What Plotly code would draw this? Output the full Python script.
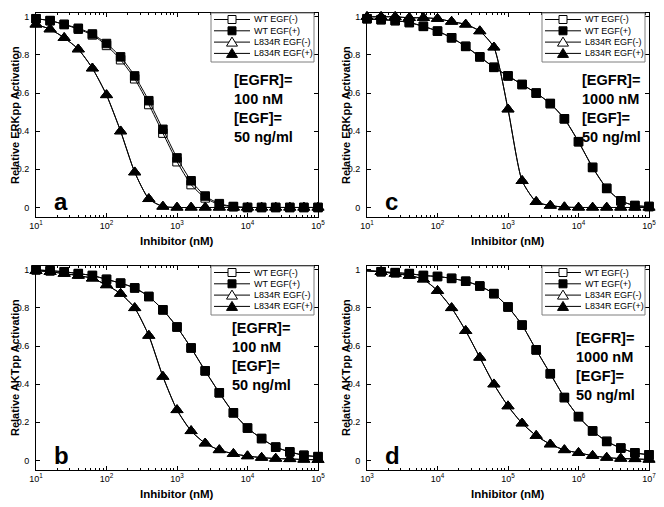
import plotly.graph_objects as go

# x grids (log10 spacing of 0.2 decades)
x_abc = [10 ** (1 + 0.2 * k) for k in range(21)]
x_d = [10 ** (3 + 0.2 * k) for k in range(21)]

# Panel a: ERKpp, [EGFR]=100 nM
a_wt_minus = [0.99, 0.98, 0.96, 0.935, 0.905, 0.85, 0.775, 0.675, 0.54, 0.39, 0.24, 0.12, 0.05, 0.015, 0.004, 0, 0, 0, 0, 0, 0]
a_wt_plus = [0.99, 0.98, 0.96, 0.94, 0.91, 0.86, 0.79, 0.69, 0.56, 0.41, 0.26, 0.14, 0.06, 0.02, 0.005, 0, 0, 0, 0, 0, 0]
a_l_minus = [0.96, 0.935, 0.89, 0.83, 0.73, 0.59, 0.40, 0.185, 0.045, 0.005, 0, 0, 0, 0, 0, 0, 0, 0, 0, 0, 0]
a_l_plus = [0.96, 0.935, 0.89, 0.83, 0.73, 0.59, 0.40, 0.185, 0.045, 0.005, 0, 0, 0, 0, 0, 0, 0, 0, 0, 0, 0]

# Panel c: ERKpp, [EGFR]=1000 nM
c_wt_minus = [0.99, 0.985, 0.98, 0.97, 0.95, 0.925, 0.89, 0.845, 0.79, 0.735, 0.69, 0.645, 0.60, 0.545, 0.465, 0.345, 0.21, 0.10, 0.035, 0.01, 0.005]
c_wt_plus = [0.99, 0.985, 0.98, 0.97, 0.95, 0.925, 0.89, 0.845, 0.79, 0.735, 0.69, 0.645, 0.60, 0.545, 0.465, 0.345, 0.21, 0.10, 0.035, 0.01, 0.005]
c_l_minus = [1.0, 1.0, 1.0, 0.995, 0.995, 0.99, 0.975, 0.96, 0.925, 0.84, 0.515, 0.14, 0.03, 0.01, 0.002, 0, 0, 0, 0, 0, 0]
c_l_plus = [1.0, 1.0, 1.0, 0.995, 0.995, 0.99, 0.975, 0.96, 0.925, 0.84, 0.515, 0.14, 0.03, 0.01, 0.002, 0, 0, 0, 0, 0, 0]

# Panel b: AKTpp, [EGFR]=100 nM
b_wt_minus = [1.0, 0.995, 0.99, 0.98, 0.97, 0.95, 0.93, 0.905, 0.86, 0.79, 0.70, 0.59, 0.47, 0.355, 0.25, 0.17, 0.115, 0.07, 0.045, 0.027, 0.02]
b_wt_plus = [1.0, 0.995, 0.99, 0.98, 0.97, 0.95, 0.93, 0.905, 0.86, 0.79, 0.70, 0.59, 0.47, 0.355, 0.25, 0.17, 0.115, 0.07, 0.045, 0.027, 0.02]
b_l_minus = [0.995, 0.99, 0.98, 0.97, 0.955, 0.92, 0.875, 0.80, 0.655, 0.44, 0.265, 0.155, 0.09, 0.055, 0.035, 0.023, 0.015, 0.01, 0.008, 0.005, 0.004]
b_l_plus = [0.995, 0.99, 0.98, 0.97, 0.955, 0.92, 0.875, 0.80, 0.655, 0.44, 0.265, 0.155, 0.09, 0.055, 0.035, 0.023, 0.015, 0.01, 0.008, 0.005, 0.004]

# Panel d: AKTpp, [EGFR]=1000 nM
d_wt_minus = [0.995, 0.99, 0.985, 0.98, 0.97, 0.965, 0.955, 0.94, 0.915, 0.875, 0.805, 0.71, 0.58, 0.455, 0.33, 0.23, 0.155, 0.10, 0.065, 0.04, 0.03]
d_wt_plus = [0.995, 0.99, 0.985, 0.98, 0.97, 0.965, 0.955, 0.94, 0.915, 0.875, 0.805, 0.71, 0.58, 0.455, 0.33, 0.23, 0.155, 0.10, 0.065, 0.04, 0.03]
d_l_minus = [0.995, 0.99, 0.98, 0.97, 0.95, 0.89, 0.80, 0.68, 0.54, 0.40, 0.285, 0.195, 0.13, 0.085, 0.055, 0.04, 0.025, 0.015, 0.01, 0.008, 0.005]
d_l_plus = [0.995, 0.99, 0.98, 0.97, 0.95, 0.89, 0.80, 0.68, 0.54, 0.40, 0.285, 0.195, 0.13, 0.085, 0.055, 0.04, 0.025, 0.015, 0.01, 0.008, 0.005]

# tick labels
xtick_abc = [10, 100, 1000, 10000, 100000]
xtick_abc_text = ["10<sup>1</sup>", "10<sup>2</sup>", "10<sup>3</sup>", "10<sup>4</sup>", "10<sup>5</sup>"]
xtick_d = [1e3, 1e4, 1e5, 1e6, 1e7]
xtick_d_text = ["10<sup>3</sup>", "10<sup>4</sup>", "10<sup>5</sup>", "10<sup>6</sup>", "10<sup>7</sup>"]
ytick_vals = [0, 0.2, 0.4, 0.6, 0.8, 1]
ytick_text = ["0", "0.2", "0.4", "0.6", "0.8", "1"]

series_names = ["WT EGF(-)", "WT EGF(+)", "L834R EGF(-)", "L834R EGF(+)"]
panel_letters = ["a", "b", "c", "d"]
x_title = "Inhibitor (nM)"
y_titles = ["Relative ERKpp Activation", "Relative AKTpp Activation",
            "Relative ERKpp Activation", "Relative AKTpp Activation"]
conc_texts = ["[EGFR]=<br>100 nM<br>[EGF]=<br>50 ng/ml",
              "[EGFR]=<br>100 nM<br>[EGF]=<br>50 ng/ml",
              "[EGFR]=<br>1000 nM<br>[EGF]=<br>50 ng/ml",
              "[EGFR]=<br>1000 nM<br>[EGF]=<br>50 ng/ml"]

OFF = 8  # default page body margin
W, H = 664 - OFF, 507 - OFF
FONT = "Liberation Sans, Arial, Helvetica, sans-serif"


def px(xpix):
    return (xpix - OFF) / W


def py(ypix):
    return 1 - (ypix - OFF) / H


def minor_vals(lo, hi):
    vals = []
    for e in range(lo, hi):
        for m in range(2, 10):
            vals.append(m * 10 ** e)
    return vals


# panel geometry in page pixels (left, right, top, bottom)
panels = {
    "a": (36, 318, 13, 217),
    "b": (36, 318, 266, 470),
    "c": (367, 649, 13, 217),
    "d": (367, 649, 266, 470),
}
data = {
    "a": (x_abc, [a_wt_minus, a_wt_plus, a_l_minus, a_l_plus], [1, 5], xtick_abc, xtick_abc_text),
    "b": (x_abc, [b_wt_minus, b_wt_plus, b_l_minus, b_l_plus], [1, 5], xtick_abc, xtick_abc_text),
    "c": (x_abc, [c_wt_minus, c_wt_plus, c_l_minus, c_l_plus], [1, 5], xtick_abc, xtick_abc_text),
    "d": (x_d, [d_wt_minus, d_wt_plus, d_l_minus, d_l_plus], [3, 7], xtick_d, xtick_d_text),
}
text_pos = {"a": (232, 70), "b": (230, 318), "c": (580, 70), "d": (574, 328)}

symbols = ["square-open", "square", "triangle-up-open", "triangle-up"]
sizes = [8.5, 8.5, 10.5, 10.5]

fig = go.Figure()
layout = dict(
    width=W, height=H,
    margin=dict(l=0, r=0, t=0, b=0),
    paper_bgcolor="white", plot_bgcolor="white",
    font=dict(family=FONT, color="black", size=9),
    annotations=[], shapes=[], showlegend=False,
)


def add_legend(l, r, t, b):
    bx0, bx1 = r - 107, r - 4
    by0, by1 = t, t + 49
    layout["shapes"].append(dict(type="rect", xref="paper", yref="paper",
                                 x0=px(bx0), x1=px(bx1), y0=py(by1), y1=py(by0),
                                 fillcolor="white", line=dict(color="#7f7f7f", width=1)))
    for k, name in enumerate(series_names):
        yc = t + 6.5 + 11.3 * k
        layout["shapes"].append(dict(type="line", xref="paper", yref="paper",
                                     x0=px(bx0 + 3), x1=px(bx0 + 39), y0=py(yc), y1=py(yc),
                                     line=dict(color="black", width=1)))
        mx = bx0 + 21
        fill = "white" if k in (0, 2) else "black"
        if k < 2:
            s = 4
            layout["shapes"].append(dict(type="rect", xref="paper", yref="paper",
                                         x0=px(mx - s), x1=px(mx + s), y0=py(yc + s), y1=py(yc - s),
                                         fillcolor=fill, line=dict(color="black", width=1)))
        else:
            path = "M {:.5f},{:.5f} L {:.5f},{:.5f} L {:.5f},{:.5f} Z".format(
                px(mx - 5.5), py(yc + 4), px(mx + 5.5), py(yc + 4), px(mx), py(yc - 5))
            layout["shapes"].append(dict(type="path", xref="paper", yref="paper", path=path,
                                         fillcolor=fill, line=dict(color="black", width=1)))
        layout["annotations"].append(dict(
            x=px(bx0 + 41), y=py(yc), xref="paper", yref="paper",
            xanchor="left", yanchor="middle", text=name, showarrow=False,
            font=dict(size=9, family=FONT, color="black")))


for i, p in enumerate(["a", "b", "c", "d"]):
    l, r, t, b = panels[p]
    xs, ys, xr, tv, tt = data[p]
    ax = "" if i == 0 else str(i + 1)
    for j in range(4):
        fig.add_trace(go.Scatter(
            x=xs, y=ys[j], name=series_names[j], mode="lines+markers",
            xaxis="x" + ax, yaxis="y" + ax, cliponaxis=False, showlegend=False,
            line=dict(color="black", width=1, shape="spline", smoothing=0.6),
            marker=dict(symbol=symbols[j], size=sizes[j], color="black",
                        line=dict(color="black", width=1)),
        ))
    layout["xaxis" + ax] = dict(
        domain=[px(l), px(r)], anchor="y" + ax, type="log", range=xr,
        tickvals=tv, ticktext=tt, automargin=False,
        ticks="inside", ticklen=4, tickwidth=1, tickcolor="black",
        showline=True, linecolor="black", linewidth=1, mirror="ticks",
        showgrid=False, zeroline=False,
        tickfont=dict(size=9, family=FONT),
        minor=dict(ticks="inside", ticklen=2, tickcolor="black", showgrid=False,
                   tickvals=minor_vals(xr[0], xr[1])),
    )
    layout["yaxis" + ax] = dict(
        domain=[py(b), py(t)], anchor="x" + ax, range=[-0.05, 1.02],
        tickvals=ytick_vals, ticktext=ytick_text, automargin=False,
        ticks="inside", ticklen=4, tickwidth=1, tickcolor="black",
        showline=True, linecolor="black", linewidth=1, mirror="ticks",
        showgrid=False, zeroline=False, ticklabelstandoff=4,
        tickfont=dict(size=9, family=FONT),
    )
    add_legend(l, r, t, b)
    # axis titles
    layout["annotations"].append(dict(
        x=px((l + r) / 2), y=py(b + 24), xref="paper", yref="paper",
        xanchor="center", yanchor="middle", text="<b>" + x_title + "</b>", showarrow=False,
        font=dict(size=11.5, family=FONT, color="black")))
    layout["annotations"].append(dict(
        x=px(l - 21), y=py((t + b) / 2), xref="paper", yref="paper",
        xanchor="center", yanchor="middle", text="<b>" + y_titles[i] + "</b>", showarrow=False,
        textangle=-90, font=dict(size=11, family=FONT, color="black")))
    tx, ty = text_pos[p]
    layout["annotations"].append(dict(
        x=px(tx), y=py(ty), xref="paper", yref="paper", xanchor="left", yanchor="top",
        text="<b>" + conc_texts[i] + "</b>", showarrow=False, align="left",
        font=dict(size=14.5, family=FONT, color="black"),
    ))
    layout["annotations"].append(dict(
        x=px(l + 16), y=py(b - 15), xref="paper", yref="paper", xanchor="left", yanchor="middle",
        text="<b>" + panel_letters[i] + "</b>", showarrow=False,
        font=dict(size=24, family=FONT, color="black"),
    ))

fig.update_layout(**layout)
fig.write_html("out.html")
